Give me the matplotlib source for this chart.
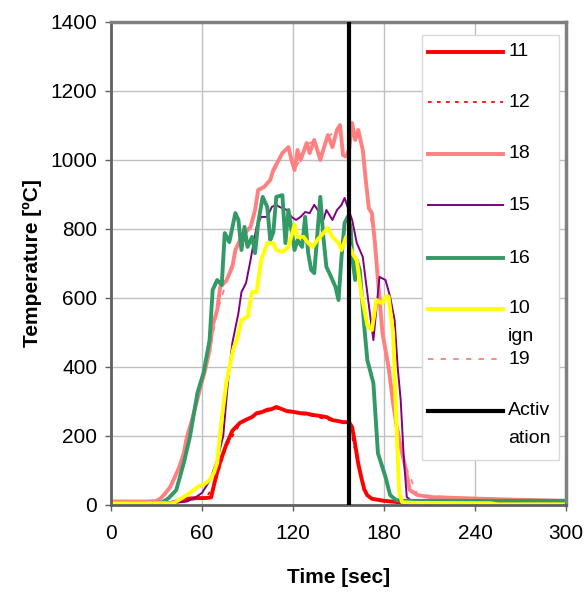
import matplotlib
matplotlib.use("Agg")
import matplotlib.pyplot as plt
from matplotlib.lines import Line2D
from matplotlib.patches import Rectangle

plt.rcParams["font.family"] = ["Liberation Sans", "DejaVu Sans"]

# thermocouple 11 (red)
t11 = [0, 30, 40, 44, 50, 56, 62, 66, 68, 70, 72, 76, 80, 85, 89, 93, 96, 100, 103, 106,
       109, 112, 116, 120, 125, 129, 133, 138, 142, 146, 150, 153, 157, 159, 161, 163, 165, 167, 169, 172,
       176, 180, 185, 190, 195, 200, 300]
T11 = [4, 4, 6, 12, 18, 20, 20, 22, 60, 95, 125, 175, 215, 238, 247, 255, 266, 270, 276, 278,
       284, 279, 272, 270, 266, 265, 261, 258, 255, 246, 243, 240, 240, 225, 175, 120, 80, 45, 28, 18,
       15, 12, 10, 8, 4, 2, 2]

# thermocouple 12 (red dotted)
t12 = [0, 40, 50, 62, 68, 76, 85, 96, 109, 120, 133, 146, 157, 163, 169, 180, 195, 300]
T12 = [3, 5, 15, 18, 55, 170, 235, 262, 280, 268, 258, 244, 238, 115, 25, 10, 3, 1]

# thermocouple 18 (salmon)
t18 = [0, 25, 30, 33, 36, 39, 42, 45, 48, 50, 53, 56, 59, 62, 65, 67, 70, 72, 76, 80,
       82, 86, 92, 95, 97, 101, 105, 107, 110, 113, 117, 119, 121, 123, 125, 129, 131, 134, 138, 140,
       143, 146, 149, 151, 153, 155, 157, 159, 161, 163, 166, 168, 170, 172, 174, 176, 179, 183, 186, 189,
       194, 197, 202, 210, 230, 260, 300]
T18 = [10, 10, 12, 20, 35, 52, 80, 110, 150, 197, 240, 290, 342, 390, 449, 520, 565, 632, 650, 690,
       739, 777, 806, 855, 913, 922, 942, 971, 995, 1020, 1037, 1000, 971, 1029, 1000, 1049, 1020, 1058, 1000, 1030,
       1072, 1037, 1087, 1101, 1014, 1010, 1030, 1107, 1058, 1087, 1029, 940, 860, 846, 760, 652, 498, 400, 295, 209,
       110, 43, 29, 23, 20, 16, 12]

# thermocouple 15 (purple)
t15 = [0, 40, 50, 55, 60, 65, 70, 74, 77, 80, 84, 86, 89, 92, 94, 96, 99, 103, 106, 109,
       111, 116, 119, 122, 125, 128, 131, 134, 137, 140, 142, 146, 149, 152, 154, 156, 159, 162, 166, 169,
       171, 173, 175, 177, 181, 184, 187, 189, 191, 193, 195, 200, 300]
T15 = [5, 5, 10, 20, 35, 70, 130, 200, 353, 470, 556, 617, 643, 710, 759, 806, 835, 835, 864, 870,
       864, 855, 835, 826, 835, 849, 846, 870, 850, 826, 855, 826, 855, 870, 890, 864, 826, 760, 719, 614,
       545, 478, 570, 661, 652, 604, 536, 400, 304, 140, 23, 5, 5]

# thermocouple 16 (green)
t16 = [0, 30, 34, 38, 43, 48, 52, 57, 61, 65, 67, 70, 73, 75, 78, 82, 84, 86, 88, 90,
       93, 95, 97, 100, 103, 105, 107, 109, 113, 115, 117, 121, 123, 126, 128, 130, 132, 134, 138, 140,
       142, 144, 148, 150, 152, 154, 156, 158, 159, 161, 162, 164, 167, 169, 173, 176, 181, 184, 188, 193,
       200, 300]
T16 = [6, 6, 8, 20, 43, 122, 197, 325, 383, 478, 623, 652, 638, 788, 762, 846, 826, 739, 806, 748,
       777, 730, 817, 893, 864, 768, 790, 893, 898, 759, 855, 739, 768, 748, 835, 730, 681, 672, 893, 777,
       690, 672, 632, 594, 719, 817, 835, 806, 719, 652, 710, 681, 516, 420, 353, 150, 81, 29, 14, 12,
       12, 12]

# thermocouple 10 ign (yellow)
t10 = [0, 41, 48, 52, 57, 62, 65, 68, 70, 73, 76, 79, 81, 83, 86, 90, 93, 96, 99, 103,
       107, 109, 113, 117, 121, 123, 127, 130, 133, 136, 140, 143, 146, 150, 152, 155, 159, 162, 165, 169,
       172, 175, 179, 181, 183, 186, 188, 190, 192, 200, 250, 255, 300]
T10 = [5, 5, 23, 35, 52, 62, 72, 95, 122, 250, 353, 420, 458, 478, 536, 545, 617, 617, 710, 759,
       759, 739, 733, 748, 812, 777, 777, 759, 748, 768, 788, 803, 777, 759, 739, 777, 730, 710, 614, 520,
       507, 594, 584, 604, 604, 498, 255, 35, 8, 6, 5, 2, 2]

# thermocouple 19 (salmon dashed, mostly hidden under 18)
t19 = [0, 30, 36, 42, 48, 53, 59, 65, 70, 76, 82, 86, 92, 95, 97, 101, 105, 110, 113, 117,
       121, 125, 129, 134, 138, 143, 149, 151, 153, 157, 159, 163, 166, 170, 174, 179, 186, 194, 202, 230,
       300]
T19 = [10, 10, 30, 75, 145, 235, 335, 445, 560, 645, 735, 775, 805, 850, 910, 920, 940, 990, 1018, 1035,
       975, 1000, 1045, 1055, 1002, 1068, 1085, 1098, 1015, 1028, 1105, 1085, 1030, 865, 765, 495,
       300, 115, 30, 20, 12]

# sprinkler activation
act_t = [157, 157]
act_T = [0, 1400]

series = [
    ("11", t11, T11, dict(color="#ff0000", lw=2.8, ls="-"), 2.0),
    ("12", t12, T12, dict(color="#ff0000", lw=1.3, ls=(0, (2, 3))), 1.9),
    ("18", t18, T18, dict(color="#ff8080", lw=2.8, ls="-"), 2.2),
    ("15", t15, T15, dict(color="#800080", lw=1.4, ls="-"), 2.3),
    ("16", t16, T16, dict(color="#339966", lw=2.8, ls="-"), 2.4),
    ("10\nign", t10, T10, dict(color="#ffff00", lw=2.8, ls="-"), 2.5),
    ("19", t19, T19, dict(color="#ff8080", lw=1.3, ls=(0, (3, 4))), 2.1),
    ("Activ\nation", act_t, act_T, dict(color="black", lw=3.0, ls="-"), 2.7),
]

fig = plt.figure(figsize=(5.88, 5.95), dpi=100)
ax = fig.add_axes([0.1888, 0.1513, 0.7738, 0.8118])

for name, t, T, st, z in series:
    ax.plot(t, T, solid_joinstyle="round", zorder=z, **st)

ax.set_xlim(0, 300)
ax.set_ylim(0, 1400)
ax.set_xticks(range(0, 301, 60))
ax.set_yticks(range(0, 1401, 200))
ax.grid(True, color="#c0c0c0", lw=1.0)
ax.set_axisbelow(True)
for side in ["top", "right"]:
    ax.spines[side].set_color("#808080")
    ax.spines[side].set_linewidth(2.5)
for side in ["left", "bottom"]:
    ax.spines[side].set_color("#606060")
    ax.spines[side].set_linewidth(2.0)
ax.tick_params(direction="out", length=4, width=1, color="#606060", labelsize=15, pad=6)
ax.tick_params(axis="x", pad=10)
ax.set_xlabel("Time [sec]", fontsize=15, fontweight="bold", labelpad=18)
ax.set_ylabel("Temperature [ºC]", fontsize=15, fontweight="bold", labelpad=6)

# legend drawn in axes coordinates
ax.add_patch(Rectangle((0.684, 0.093), 0.301, 0.880, transform=ax.transAxes,
                       facecolor="white", edgecolor="#d9d9d9", lw=1.0, zorder=5))
ypos = [0.938, 0.834, 0.727, 0.621, 0.511, 0.406, 0.302, 0.195]
for (name, t, T, st, z), yy in zip(series, ypos):
    ax.add_line(Line2D([0.697, 0.862], [yy, yy], transform=ax.transAxes, zorder=6, **st))
    first, *rest = name.split("\n")
    ax.text(0.873, yy, first, transform=ax.transAxes, fontsize=14, va="center", zorder=6)
    if rest:
        ax.text(0.873, yy - 0.057, rest[0], transform=ax.transAxes, fontsize=14, va="center", zorder=6)

fig.savefig("out.png", dpi=100)
